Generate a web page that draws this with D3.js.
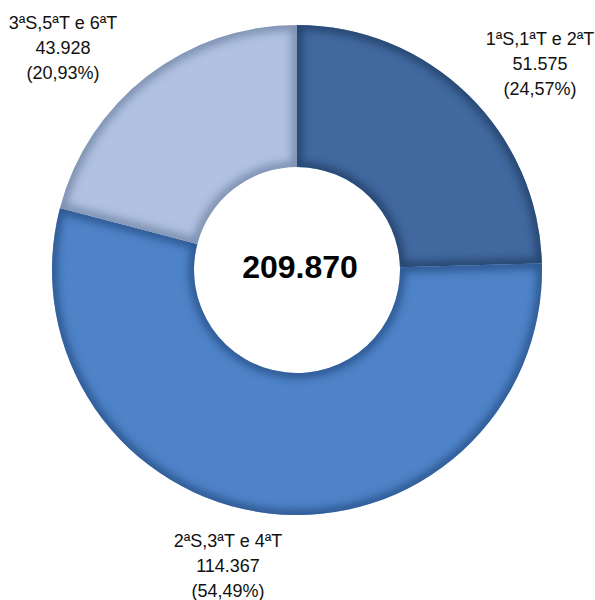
<!DOCTYPE html>
<html>
<head>
<meta charset="utf-8">
<script src="https://cdn.jsdelivr.net/npm/d3@7"></script>
<style>
  body { margin: 0; background: #fff; }
  text { font-family: "Liberation Sans", Arial, sans-serif; }
</style>
</head>
<body>
<div id="chart"></div>
<script>
// data
const categories = ["1ªS,1ªT e 2ªT", "2ªS,3ªT e 4ªT", "3ªS,5ªT e 6ªT"]
const values = [51575, 114367, 43928]
const percents = ["24,57%", "54,49%", "20,93%"]
const totalLabel = "209.870"

const colors = ["#42699f", "#4f83c8", "#b0c1e1"]
const edgeColors = ["#1f3a60", "#244c80", "#6c7f9e"]

const WIDTH = 595, HEIGHT = 600
const CX = 297, CY = 270
const OUTER = 245, INNER = 103

// label anchor spots (centre x, first baseline)
const labelPos = [
  { x: 540, y: 45 },
  { x: 228, y: 547 },
  { x: 63, y: 29 }
]
const LINE = 25

const fmt = d3.formatLocale({ decimal: ",", thousands: ".", grouping: [3], currency: ["", ""] }).format(",d")

const svg = d3.select("#chart").append("svg")
    .attr("width", WIDTH)
    .attr("height", HEIGHT)

const defs = svg.append("defs")
defs.append("filter")
    .attr("id", "soft")
    .attr("x", "-20%").attr("y", "-20%")
    .attr("width", "140%").attr("height", "140%")
  .append("feGaussianBlur")
    .attr("stdDeviation", 4)

const pie = d3.pie().sort(null).startAngle(0).endAngle(2 * Math.PI)
const arcs = pie(values)
const arc = d3.arc().innerRadius(INNER).outerRadius(OUTER)

const g = svg.append("g")
    .attr("transform", `translate(${CX},${CY})`)

arcs.forEach((d, i) => {
    defs.append("clipPath")
        .attr("id", "clip" + i)
      .append("path")
        .attr("d", arc(d))

    g.append("path")
        .attr("d", arc(d))
        .attr("fill", colors[i])

    // bevel-like darkening along the edges
    g.append("g")
        .attr("clip-path", `url(#clip${i})`)
      .append("path")
        .attr("d", arc(d))
        .attr("fill", "none")
        .attr("stroke", edgeColors[i])
        .attr("stroke-width", 10)
        .attr("opacity", 0.8)
        .attr("filter", "url(#soft)")
})

g.append("text")
    .attr("x", 3)
    .attr("y", 8)
    .attr("text-anchor", "middle")
    .attr("font-size", 32)
    .attr("font-weight", "bold")
    .attr("fill", "#000")
    .text(totalLabel)

categories.forEach((c, i) => {
    const t = svg.append("text")
        .attr("text-anchor", "middle")
        .attr("font-size", 18)
        .attr("fill", "#111")
    const lines = [c, fmt(values[i]), `(${percents[i]})`]
    lines.forEach((l, j) => {
        t.append("tspan")
            .attr("x", labelPos[i].x)
            .attr("y", labelPos[i].y + j * LINE)
            .text(l)
    })
})
</script>
</body>
</html>
